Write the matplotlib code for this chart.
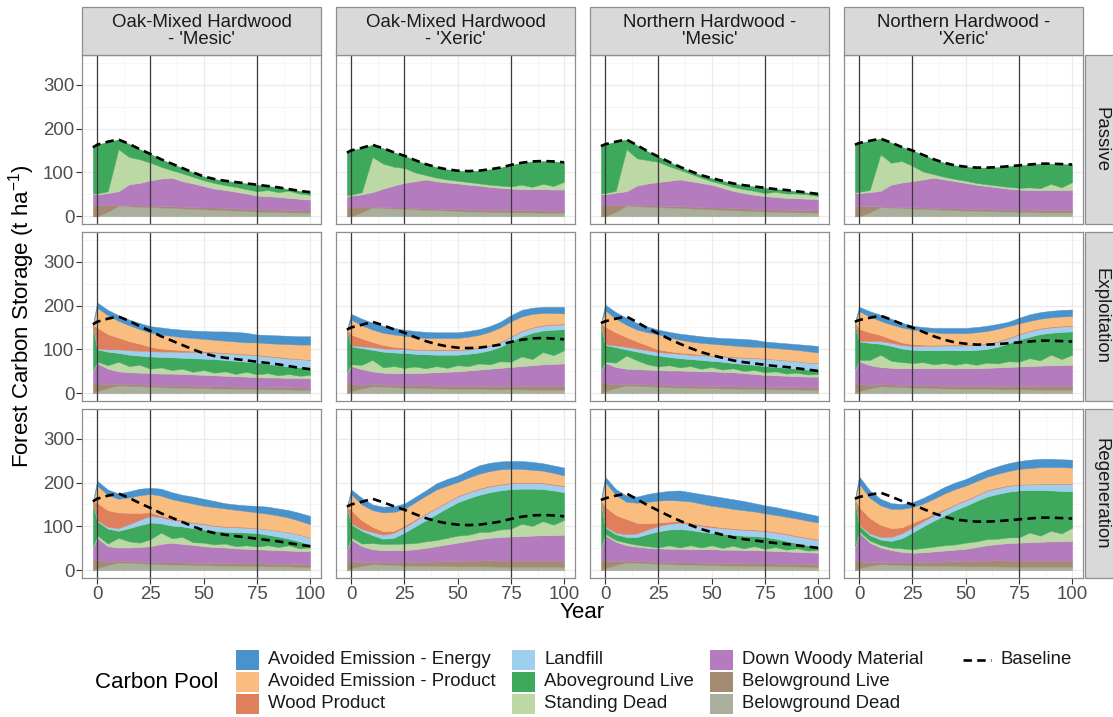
import numpy as np
import matplotlib
matplotlib.use("Agg")
import matplotlib.pyplot as plt
from matplotlib.patches import Rectangle
from matplotlib.lines import Line2D

plt.rcParams['font.family'] = ['Liberation Sans', 'DejaVu Sans']
plt.rcParams['mathtext.fontset'] = 'custom'
plt.rcParams['mathtext.rm'] = 'Liberation Sans'
plt.rcParams['mathtext.it'] = 'Liberation Sans:italic'

# ---------------------------------------------------------------- data
YEARS = [-2, 0, 5, 10, 15, 20, 25, 30, 35, 40, 45, 50, 55, 60, 65, 70, 75, 80, 85, 90, 95, 100]

FOREST_TYPES = ["Oak-Mixed Hardwood\n- 'Mesic'", "Oak-Mixed Hardwood\n- 'Xeric'",
                "Northern Hardwood -\n'Mesic'", "Northern Hardwood -\n'Xeric'"]
TREATMENTS = ["Passive", "Exploitation", "Regeneration"]

# carbon pools in legend order, with their keys and fills
POOL_NAMES = ["Avoided Emission - Energy", "Avoided Emission - Product", "Wood Product",
              "Landfill", "Aboveground Live", "Standing Dead",
              "Down Woody Material", "Belowground Live", "Belowground Dead"]
POOL_KEYS = ["aee", "aep", "wp", "lf", "agl", "sd", "dwm", "bgl", "bgd"]
POOL_COLORS = ["#4A92CB", "#F9BD7F", "#E07F5C", "#9FCFEE", "#3EA95C", "#BCD8A5",
               "#B47CBE", "#A28B70", "#AAAF9D"]

# baseline (no-management) storage per forest type
BASE_OAK_MESIC = [157, 163, 170, 175, 165, 153, 142, 130, 120, 110, 100, 91, 85, 81, 78, 75, 72, 69, 66, 62, 58, 55]
BASE_OAK_XERIC = [145, 150, 156, 163, 155, 146, 138, 128, 119, 112, 107, 104, 103, 104, 107, 111, 117, 122, 125, 126, 125, 123]
BASE_NH_MESIC = [160, 164, 170, 175, 162, 148, 136, 124, 113, 103, 94, 87, 81, 75, 71, 68, 65, 62, 60, 57, 54, 51]
BASE_NH_XERIC = [163, 167, 172, 177, 168, 158, 150, 140, 130, 122, 116, 113, 111, 111, 112, 114, 116, 118, 120, 120, 119, 118]

# Passive
OAK_MESIC_PASSIVE = dict(
    bgd=[0, 0, 10, 24, 23, 22, 21, 20, 19, 18, 17, 16, 15, 14, 13, 12, 11, 10, 10, 9, 9, 8],
    bgl=[25, 25, 15, 2, 2, 3, 3, 3, 4, 4, 4, 4, 5, 5, 5, 5, 5, 5, 5, 5, 5, 5],
    dwm=[25, 25, 28, 31, 48, 51, 58, 63, 65, 58, 54, 49, 43, 41, 38, 35, 31, 31, 29, 28, 26, 25],
    sd=[2, 2, 4, 96, 62, 54, 40, 27, 17, 18, 15, 13, 13, 11, 11, 10, 10, 14, 11, 16, 12, 11],
    agl=[105, 111, 113, 22, 30, 23, 20, 17, 15, 12, 10, 9, 9, 10, 11, 13, 15, 9, 11, 4, 6, 6],
)
OAK_XERIC_PASSIVE = dict(
    bgd=[0, 0, 9, 20, 19, 18, 17, 16, 15, 14, 13, 12, 11, 11, 10, 10, 9, 9, 9, 8, 8, 8],
    bgl=[22, 22, 13, 2, 2, 2, 3, 3, 3, 3, 4, 4, 4, 4, 4, 4, 5, 5, 5, 5, 5, 5],
    dwm=[24, 25, 28, 33, 42, 50, 56, 61, 66, 63, 60, 59, 57, 55, 53, 51, 49, 48, 48, 49, 48, 48],
    sd=[2, 2, 5, 80, 57, 43, 34, 20, 10, 8, 7, 6, 6, 5, 5, 5, 5, 10, 5, 12, 8, 18],
    agl=[97, 101, 101, 28, 35, 33, 28, 28, 25, 24, 23, 23, 25, 29, 35, 41, 49, 50, 58, 52, 56, 44],
)
NH_MESIC_PASSIVE = dict(
    bgd=[0, 0, 10, 24, 23, 22, 21, 20, 19, 18, 17, 16, 15, 14, 13, 12, 11, 10, 10, 9, 9, 8],
    bgl=[25, 25, 15, 2, 2, 3, 3, 3, 4, 4, 4, 4, 5, 5, 5, 5, 5, 5, 5, 5, 5, 5],
    dwm=[25, 25, 29, 31, 45, 50, 54, 58, 61, 58, 55, 52, 45, 39, 35, 32, 30, 29, 27, 27, 26, 26],
    sd=[2, 3, 4, 96, 62, 53, 46, 33, 22, 17, 12, 8, 9, 9, 9, 9, 7, 12, 10, 11, 10, 7],
    agl=[108, 111, 112, 22, 30, 20, 12, 10, 7, 6, 6, 7, 7, 8, 9, 10, 12, 6, 8, 5, 4, 5],
)
NH_XERIC_PASSIVE = dict(
    bgd=[0, 0, 9, 21, 20, 19, 18, 17, 16, 15, 14, 13, 12, 12, 11, 11, 10, 10, 9, 9, 9, 9],
    bgl=[23, 23, 14, 2, 2, 2, 3, 3, 3, 3, 4, 4, 4, 4, 4, 4, 5, 5, 5, 5, 5, 5],
    dwm=[29, 30, 32, 35, 50, 56, 59, 64, 69, 66, 62, 59, 56, 53, 51, 48, 46, 45, 46, 46, 46, 46],
    sd=[2, 3, 5, 83, 50, 49, 35, 18, 8, 6, 5, 5, 4, 4, 4, 4, 4, 6, 4, 14, 6, 18],
    agl=[109, 111, 112, 36, 46, 32, 35, 38, 34, 32, 31, 32, 35, 38, 42, 47, 51, 52, 56, 46, 53, 40],
)

# Exploitation
OAK_MESIC_EXPLOIT = dict(
    bgd=[0, 5, 12, 18, 17, 16, 15, 14, 13, 13, 12, 12, 11, 11, 10, 10, 10, 9, 9, 9, 8, 8],
    bgl=[25, 18, 8, 4, 4, 4, 4, 4, 4, 5, 5, 5, 5, 5, 5, 5, 5, 5, 5, 5, 5, 5],
    dwm=[25, 46, 36, 28, 27, 27, 27, 27, 28, 26, 26, 25, 25, 24, 24, 23, 22, 22, 22, 21, 22, 21],
    sd=[2, 3, 8, 22, 14, 18, 10, 14, 8, 12, 6, 11, 6, 10, 5, 11, 6, 10, 5, 9, 5, 8],
    agl=[105, 28, 31, 20, 26, 21, 28, 24, 29, 25, 31, 26, 31, 26, 30, 23, 27, 21, 23, 17, 19, 15],
    lf=[0, 2, 5, 8, 10, 11, 12, 12, 13, 13, 14, 14, 15, 15, 16, 16, 17, 17, 18, 18, 19, 19],
    wp=[0, 48, 35, 27, 21, 16, 10, 7, 5, 4, 3, 3, 2, 2, 2, 2, 2, 2, 2, 2, 1, 1],
    aep=[0, 45, 43, 38, 36, 33, 32, 32, 31, 30, 29, 28, 27, 27, 26, 26, 27, 28, 29, 31, 32, 34],
    aee=[0, 12, 12, 13, 13, 14, 15, 16, 16, 17, 17, 18, 19, 21, 22, 22, 18, 19, 19, 19, 19, 19],
)
OAK_XERIC_EXPLOIT = dict(
    bgd=[0, 5, 11, 16, 15, 14, 13, 12, 12, 11, 11, 10, 10, 10, 9, 9, 9, 9, 8, 8, 8, 8],
    bgl=[22, 16, 8, 5, 5, 5, 5, 6, 6, 6, 6, 7, 7, 7, 7, 8, 8, 8, 8, 8, 8, 8],
    dwm=[24, 41, 36, 29, 27, 27, 28, 28, 29, 31, 32, 33, 35, 37, 40, 41, 43, 45, 48, 50, 51, 52],
    sd=[2, 4, 10, 26, 12, 16, 12, 15, 10, 14, 9, 14, 10, 14, 10, 15, 12, 22, 14, 28, 20, 30],
    agl=[97, 41, 38, 23, 36, 31, 34, 29, 32, 26, 30, 24, 28, 25, 32, 33, 46, 46, 60, 49, 58, 48],
    lf=[0, 2, 4, 6, 7, 8, 9, 9, 10, 10, 10, 10, 10, 10, 10, 10, 11, 11, 11, 11, 11, 11],
    wp=[0, 25, 18, 12, 8, 5, 3, 2, 2, 2, 2, 2, 2, 2, 2, 2, 2, 2, 2, 2, 2, 2],
    aep=[0, 34, 30, 28, 28, 28, 27, 27, 25, 26, 26, 26, 27, 28, 30, 32, 33, 32, 30, 27, 25, 23],
    aee=[0, 13, 15, 16, 16, 15, 14, 14, 14, 13, 13, 13, 13, 13, 13, 13, 14, 15, 14, 14, 14, 15],
)
NH_MESIC_EXPLOIT = dict(
    bgd=[0, 5, 12, 18, 17, 16, 15, 14, 13, 13, 12, 12, 11, 11, 10, 10, 10, 9, 9, 9, 8, 8],
    bgl=[25, 18, 8, 4, 4, 4, 4, 4, 4, 5, 5, 5, 5, 5, 5, 5, 5, 5, 5, 5, 5, 5],
    dwm=[25, 46, 40, 34, 34, 34, 34, 34, 35, 33, 33, 33, 33, 32, 31, 29, 27, 27, 26, 25, 25, 25],
    sd=[2, 3, 10, 30, 20, 12, 8, 12, 7, 11, 6, 10, 5, 9, 5, 9, 6, 9, 5, 8, 5, 6],
    agl=[108, 38, 35, 14, 20, 24, 25, 19, 21, 16, 20, 14, 18, 12, 16, 12, 14, 10, 13, 9, 11, 9],
    lf=[0, 2, 4, 6, 7, 8, 8, 9, 10, 10, 11, 11, 12, 13, 14, 15, 17, 17, 17, 17, 16, 16],
    wp=[0, 40, 30, 22, 16, 11, 6, 4, 3, 3, 2, 2, 2, 2, 2, 2, 1, 1, 1, 1, 1, 1],
    aep=[0, 37, 31, 28, 27, 30, 34, 32, 29, 27, 26, 26, 25, 25, 24, 24, 25, 25, 25, 25, 25, 23],
    aee=[0, 13, 15, 16, 15, 13, 11, 12, 14, 15, 15, 15, 15, 16, 17, 16, 13, 13, 13, 13, 14, 15],
)
NH_XERIC_EXPLOIT = dict(
    bgd=[0, 5, 11, 16, 15, 14, 13, 12, 12, 11, 11, 10, 10, 10, 9, 9, 9, 9, 8, 8, 8, 8],
    bgl=[23, 16, 8, 5, 5, 5, 5, 6, 6, 6, 6, 7, 7, 7, 7, 8, 8, 8, 8, 8, 8, 8],
    dwm=[29, 52, 45, 39, 38, 38, 39, 39, 39, 40, 40, 40, 40, 41, 43, 43, 44, 45, 47, 48, 48, 49],
    sd=[2, 3, 12, 28, 16, 14, 12, 14, 9, 12, 8, 12, 8, 12, 9, 13, 11, 18, 12, 24, 14, 23],
    agl=[109, 42, 39, 25, 34, 31, 30, 27, 32, 29, 33, 29, 34, 31, 38, 41, 50, 49, 60, 50, 62, 53],
    lf=[0, 2, 4, 6, 7, 8, 9, 10, 10, 11, 11, 11, 11, 11, 11, 11, 12, 12, 12, 12, 12, 12],
    wp=[0, 27, 20, 14, 9, 6, 4, 3, 2, 2, 2, 2, 2, 2, 2, 2, 2, 2, 2, 2, 2, 2],
    aep=[0, 40, 36, 32, 33, 34, 33, 31, 29, 26, 26, 26, 27, 28, 28, 26, 23, 22, 21, 21, 21, 21],
    aee=[0, 10, 12, 14, 13, 11, 9, 9, 10, 12, 12, 12, 12, 12, 11, 10, 13, 15, 15, 15, 15, 15],
)

# Regeneration
OAK_MESIC_REGEN = dict(
    bgd=[0, 5, 12, 18, 17, 16, 15, 14, 13, 13, 12, 12, 11, 11, 10, 10, 10, 9, 9, 9, 8, 8],
    bgl=[25, 18, 8, 4, 4, 4, 4, 4, 5, 5, 5, 5, 6, 6, 6, 6, 6, 6, 6, 6, 6, 6],
    dwm=[25, 51, 35, 30, 31, 33, 36, 42, 45, 42, 41, 38, 36, 35, 34, 33, 32, 32, 31, 30, 30, 30],
    sd=[2, 6, 6, 22, 14, 10, 16, 26, 10, 16, 6, 8, 6, 9, 5, 8, 6, 10, 7, 12, 6, 8],
    agl=[105, 32, 34, 16, 30, 40, 38, 21, 29, 24, 32, 30, 31, 27, 32, 29, 31, 24, 24, 15, 16, 7],
    lf=[0, 2, 4, 6, 9, 12, 15, 14, 13, 12, 12, 12, 11, 11, 11, 11, 11, 12, 13, 14, 15, 15],
    wp=[0, 40, 38, 36, 26, 16, 8, 4, 3, 3, 2, 2, 2, 2, 2, 2, 1, 1, 1, 1, 1, 1],
    aep=[0, 39, 35, 31, 35, 40, 42, 45, 44, 42, 42, 40, 41, 40, 38, 36, 35, 35, 34, 33, 31, 30],
    aee=[0, 11, 12, 12, 14, 15, 14, 16, 16, 15, 16, 16, 14, 12, 12, 13, 15, 16, 16, 17, 18, 19],
)
OAK_XERIC_REGEN = dict(
    bgd=[0, 5, 10, 14, 13, 12, 11, 11, 10, 10, 10, 9, 9, 9, 9, 8, 8, 8, 8, 8, 8, 8],
    bgl=[22, 16, 8, 5, 5, 6, 7, 8, 9, 10, 11, 12, 13, 13, 14, 14, 14, 14, 14, 14, 14, 14],
    dwm=[24, 49, 37, 29, 28, 28, 28, 29, 32, 35, 38, 42, 45, 49, 51, 54, 55, 56, 57, 58, 58, 59],
    sd=[2, 5, 6, 14, 14, 14, 15, 14, 15, 14, 15, 16, 14, 16, 14, 17, 18, 28, 22, 32, 24, 34],
    agl=[97, 30, 29, 18, 12, 14, 25, 38, 48, 59, 68, 76, 83, 85, 90, 89, 90, 80, 85, 73, 78, 63],
    lf=[0, 2, 4, 7, 9, 11, 12, 13, 14, 13, 13, 13, 13, 13, 13, 13, 13, 13, 13, 13, 13, 13],
    wp=[0, 30, 20, 12, 8, 5, 4, 3, 2, 2, 2, 2, 2, 2, 2, 2, 2, 2, 2, 2, 2, 2],
    aep=[0, 36, 36, 38, 43, 43, 38, 39, 40, 41, 36, 31, 32, 33, 33, 33, 31, 30, 28, 27, 25, 23],
    aee=[0, 11, 15, 13, 13, 13, 12, 12, 12, 14, 15, 15, 17, 19, 19, 18, 18, 18, 18, 17, 17, 18],
)
NH_MESIC_REGEN = dict(
    bgd=[0, 5, 12, 18, 17, 16, 15, 14, 13, 13, 12, 12, 11, 11, 10, 10, 10, 9, 9, 9, 8, 8],
    bgl=[25, 18, 8, 4, 4, 4, 4, 4, 5, 5, 5, 5, 6, 6, 6, 6, 6, 6, 6, 6, 6, 6],
    dwm=[25, 57, 45, 35, 33, 31, 31, 31, 31, 30, 31, 31, 30, 30, 30, 30, 29, 29, 28, 27, 27, 26],
    sd=[2, 3, 4, 6, 4, 4, 2, 8, 3, 9, 4, 9, 4, 9, 4, 9, 4, 9, 4, 8, 4, 6],
    agl=[108, 15, 13, 13, 18, 28, 37, 36, 42, 35, 36, 28, 32, 25, 29, 23, 27, 19, 20, 12, 12, 7],
    lf=[0, 2, 4, 6, 8, 10, 12, 13, 14, 14, 13, 13, 13, 13, 13, 13, 13, 14, 15, 15, 16, 16],
    wp=[0, 45, 40, 35, 24, 14, 8, 5, 4, 3, 3, 3, 2, 2, 2, 2, 2, 2, 2, 2, 2, 2],
    aep=[0, 56, 46, 39, 46, 49, 50, 49, 47, 48, 48, 46, 46, 44, 43, 41, 39, 38, 38, 39, 38, 38],
    aee=[0, 12, 13, 14, 14, 18, 19, 21, 23, 21, 22, 23, 22, 22, 21, 19, 18, 18, 17, 16, 16, 15],
)
NH_XERIC_REGEN = dict(
    bgd=[0, 5, 10, 14, 13, 12, 11, 11, 10, 10, 10, 9, 9, 9, 9, 8, 8, 8, 8, 8, 8, 8],
    bgl=[23, 16, 8, 5, 5, 6, 7, 8, 9, 10, 11, 12, 13, 13, 14, 14, 14, 14, 14, 14, 14, 14],
    dwm=[29, 65, 45, 33, 28, 24, 22, 22, 24, 25, 26, 28, 31, 35, 37, 40, 41, 42, 43, 44, 44, 45],
    sd=[2, 3, 5, 6, 6, 8, 8, 10, 11, 12, 12, 14, 13, 14, 12, 13, 12, 22, 14, 24, 18, 30],
    agl=[109, 13, 12, 12, 15, 23, 38, 49, 59, 68, 78, 84, 92, 97, 102, 104, 107, 97, 104, 92, 97, 83],
    lf=[0, 2, 4, 6, 9, 11, 12, 12, 12, 12, 12, 12, 12, 13, 13, 13, 13, 13, 14, 15, 16, 17],
    wp=[0, 40, 35, 28, 20, 14, 10, 6, 4, 3, 2, 2, 2, 2, 2, 2, 1, 1, 1, 1, 1, 1],
    aep=[0, 53, 46, 44, 44, 42, 36, 34, 34, 35, 34, 32, 31, 30, 31, 32, 35, 36, 37, 37, 37, 36],
    aee=[0, 17, 17, 15, 13, 11, 11, 13, 14, 15, 15, 15, 16, 16, 17, 18, 18, 19, 19, 19, 18, 18],
)

PANELS = [
    [OAK_MESIC_PASSIVE, OAK_XERIC_PASSIVE, NH_MESIC_PASSIVE, NH_XERIC_PASSIVE],
    [OAK_MESIC_EXPLOIT, OAK_XERIC_EXPLOIT, NH_MESIC_EXPLOIT, NH_XERIC_EXPLOIT],
    [OAK_MESIC_REGEN, OAK_XERIC_REGEN, NH_MESIC_REGEN, NH_XERIC_REGEN],
]
BASELINES = [BASE_OAK_MESIC, BASE_OAK_XERIC, BASE_NH_MESIC, BASE_NH_XERIC]
REF_YEARS = [0, 25, 75]

# ---------------------------------------------------------------- layout
W, H = 1113, 717
fig = plt.figure(figsize=(W / 100, H / 100), dpi=100)
fig.patch.set_facecolor("white")


def fx(px):
    return px / W


def fy(py):
    return 1 - py / H


COL_LEFT = [82, 336, 590, 844]
COL_W = 239
ROW_TOP = [55, 232, 409]
ROW_H = 169
STRIP_TOP = 7
STRIP_RIGHT_X = 1085

BORDER = "#8E8E8E"
STRIP_FILL = "#D9D9D9"
TEXT_DARK = "#1A1A1A"
TICK_TEXT = "#4D4D4D"
FS_SMALL = 13.4

stack_order = POOL_KEYS[::-1]        # bottom of the stack first
color_of = dict(zip(POOL_KEYS, POOL_COLORS))
x = np.array(YEARS, dtype=float)

for r in range(3):
    for c in range(4):
        ax = fig.add_axes([fx(COL_LEFT[c]), fy(ROW_TOP[r] + ROW_H), fx(COL_W), ROW_H / H])
        ax.set_xlim(-7.1, 105.1)
        ax.set_ylim(-17.5, 367.5)
        ax.set_xticks([0, 25, 50, 75, 100])
        ax.set_xticks([12.5, 37.5, 62.5, 87.5], minor=True)
        ax.set_yticks([0, 100, 200, 300])
        ax.set_yticks([50, 150, 250, 350], minor=True)
        ax.grid(which="major", color="#EBEBEB", lw=0.9, zorder=0)
        ax.grid(which="minor", color="#F4F4F4", lw=0.6, zorder=0)
        ax.set_axisbelow(True)
        for s in ax.spines.values():
            s.set_color(BORDER)
            s.set_linewidth(0.9)
            s.set_zorder(6)
        ax.tick_params(which="minor", length=0)
        ax.tick_params(which="major", length=4, width=0.8, color="#333333",
                       labelsize=FS_SMALL, labelcolor=TICK_TEXT, pad=1.5)
        if r < 2:
            ax.tick_params(axis="x", which="major", length=0, labelbottom=False)
        if c > 0:
            ax.tick_params(axis="y", which="major", length=0, labelleft=False)

        panel = PANELS[r][c]
        lower = np.zeros_like(x)
        for key in stack_order:
            if key not in panel:
                continue
            vals = np.array(panel[key], dtype=float)
            upper = lower + vals
            col = color_of[key]
            ax.fill_between(x, lower, upper, facecolor=col, edgecolor=col,
                            lw=0.3, zorder=2)
            lower = upper

        for yr in REF_YEARS:
            ax.axvline(yr, color="#3A3A3A", lw=0.9, zorder=4)
        ax.plot(x, BASELINES[c], color="black", lw=1.9, dashes=(3.2, 2.0),
                zorder=5, solid_capstyle="butt", dash_capstyle="butt")

# facet strips on top
for c in range(4):
    fig.add_artist(Rectangle((fx(COL_LEFT[c]), fy(ROW_TOP[0])), fx(COL_W),
                             (ROW_TOP[0] - STRIP_TOP) / H, transform=fig.transFigure,
                             facecolor=STRIP_FILL, edgecolor=BORDER, lw=0.9))
    fig.text(fx(COL_LEFT[c] + COL_W / 2), fy((STRIP_TOP + ROW_TOP[0]) / 2),
             FOREST_TYPES[c], ha="center", va="center", fontsize=FS_SMALL,
             color=TEXT_DARK, linespacing=1.0)

# facet strips on the right
for r in range(3):
    fig.add_artist(Rectangle((fx(STRIP_RIGHT_X), fy(ROW_TOP[r] + ROW_H)), fx(40),
                             ROW_H / H, transform=fig.transFigure,
                             facecolor=STRIP_FILL, edgecolor=BORDER, lw=0.9))
    fig.text(fx(STRIP_RIGHT_X + 16), fy(ROW_TOP[r] + ROW_H / 2), TREATMENTS[r],
             ha="center", va="center", rotation=-90, fontsize=FS_SMALL, color=TEXT_DARK)

# axis titles
fig.text(fx(582), fy(613), "Year", ha="center", va="center", fontsize=16, color="black")
fig.text(fx(22), fy(316), "Forest Carbon Storage (t ha$^{-1}$)", ha="center",
         va="center", rotation=90, fontsize=16, color="black")

# legend
fig.text(fx(95), fy(683), "Carbon Pool", ha="left", va="center", fontsize=16, color="black")
KEY_COL_X = [236, 512, 710]
KEY_ROW_Y = [660, 682, 704]
KEY_W, KEY_H = 23, 20
for i, (name, col) in enumerate(zip(POOL_NAMES, POOL_COLORS)):
    kc, kr = divmod(i, 3)
    kx, ky = KEY_COL_X[kc], KEY_ROW_Y[kr]
    fig.add_artist(Rectangle((fx(kx), fy(ky + KEY_H / 2)), fx(KEY_W), KEY_H / H,
                             transform=fig.transFigure, facecolor=col, edgecolor="none"))
    fig.text(fx(kx + KEY_W + 9), fy(ky), name, ha="left", va="center",
             fontsize=FS_SMALL, color=TEXT_DARK)

fig.add_artist(Line2D([fx(963), fx(991)], [fy(660), fy(660)], transform=fig.transFigure,
                      color="black", lw=1.9, dashes=(3.2, 2.0)))
fig.text(fx(1000), fy(660), "Baseline", ha="left", va="center", fontsize=FS_SMALL,
         color=TEXT_DARK)

fig.savefig("out.png", dpi=100, facecolor="white")
